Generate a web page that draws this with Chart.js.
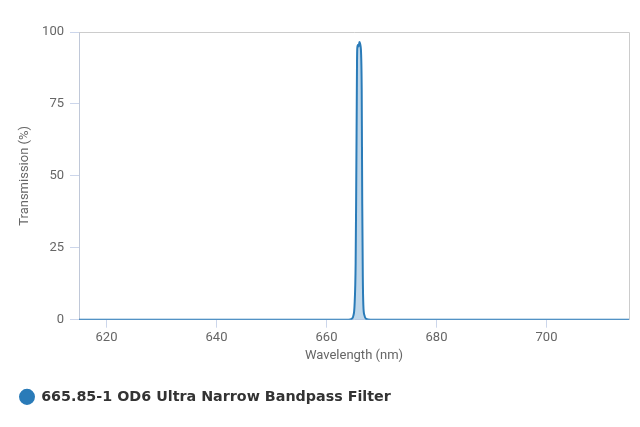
<!DOCTYPE html>
<html>
<head>
<meta charset="utf-8">
<script src="https://cdn.jsdelivr.net/npm/chart.js@4/dist/chart.umd.min.js"></script>
<style>
html,body{margin:0;padding:0;background:#fff;}
#wrap{width:640px;height:427px;position:relative;}
</style>
</head>
<body>
<div id="wrap"><canvas id="c" width="640" height="427"></canvas></div>
<script>
const seriesName = "665.85-1 OD6 Ultra Narrow Bandpass Filter";
const wavelengths = [615, 640, 660, 664.0, 664.6, 664.9, 665.1, 665.3, 665.4, 665.5, 665.55, 665.6, 665.7, 665.8, 665.9, 666.0, 666.1, 666.2, 666.3, 666.4, 666.45, 666.5, 666.6, 666.7, 666.9, 667.2, 668, 690, 715];
const transmission = [0, 0, 0, 0, 0.3, 1.5, 5, 20, 45, 75, 90, 94.5, 95.5, 95, 95.5, 96.5, 96, 95, 92, 80, 60, 40, 15, 5, 1.5, 0.3, 0, 0, 0];
const xTicks = [620, 640, 660, 680, 700];
const yTicks = [0, 25, 50, 75, 100];

const points = wavelengths.map((w, i) => ({x: w, y: transmission[i]}));

const borderPlugin = {
  id: 'plotBorder',
  beforeDatasetsDraw(chart) {
    const {ctx, chartArea: a} = chart;
    ctx.save();
    ctx.strokeStyle = '#cccccc';
    ctx.lineWidth = 1;
    ctx.beginPath();
    ctx.moveTo(a.left, a.top + 0.5);
    ctx.lineTo(a.right + 0.5, a.top + 0.5);
    ctx.lineTo(a.right + 0.5, a.bottom);
    ctx.stroke();
    ctx.restore();
  }
};

new Chart(document.getElementById('c'), {
  type: 'line',
  data: {
    datasets: [{
      label: seriesName,
      data: points,
      borderColor: '#2a7bb8',
      backgroundColor: 'rgba(42,123,184,0.3)',
      pointBackgroundColor: '#2a7bb8',
      pointBorderColor: '#2a7bb8',
      borderWidth: 2,
      fill: 'origin',
      pointRadius: 0,
      cubicInterpolationMode: 'monotone',
      pointStyle: 'circle'
    }]
  },
  options: {
    responsive: false,
    animation: false,
    devicePixelRatio: 1,
    layout: {padding: {top: 32, right: 11, left: 0, bottom: 13}},
    plugins: {
      tooltip: {enabled: false},
      legend: {
        position: 'bottom',
        align: 'start',
        labels: {
          usePointStyle: true,
          boxHeight: 10,
          pointStyleWidth: 14,
          padding: 20,
          color: '#333333',
          font: {family: '"DejaVu Sans", sans-serif', size: 14.3, weight: 'bold'}
        }
      }
    },
    scales: {
      x: {
        type: 'linear',
        min: 615,
        max: 715,
        afterBuildTicks: s => { s.ticks = xTicks.map(v => ({value: v})); },
        afterFit: s => { s.height = 50; },
        border: {display: true, color: '#ccd6eb', width: 1},
        grid: {display: true, drawOnChartArea: false, drawTicks: true, tickLength: 8, color: '#ccd6eb'},
        ticks: {color: '#666666', padding: 2, font: {family: 'Roboto, sans-serif', size: 13}, maxRotation: 0},
        title: {display: true, text: 'Wavelength (nm)', color: '#666666', font: {family: 'Roboto, sans-serif', size: 13}, padding: {top: 0, bottom: 6}}
      },
      y: {
        min: 0,
        max: 100,
        afterBuildTicks: s => { s.ticks = yTicks.map(v => ({value: v})); },
        afterFit: s => { s.width = 79; },
        border: {display: true, color: '#c0c8d8', width: 1},
        grid: {display: true, drawOnChartArea: false, drawTicks: true, tickLength: 9, color: '#ccd6eb'},
        ticks: {color: '#666666', padding: 6, font: {family: 'Roboto, sans-serif', size: 13}},
        title: {display: true, text: 'Transmission (%)', color: '#666666', font: {family: 'Roboto, sans-serif', size: 13}, padding: {top: 17, bottom: 0}}
      }
    }
  },
  plugins: [borderPlugin]
});
</script>
</body>
</html>
